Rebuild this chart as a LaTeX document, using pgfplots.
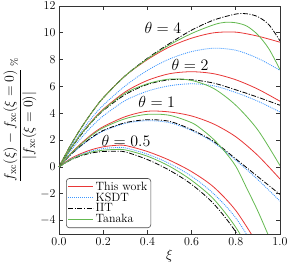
\documentclass[border=0pt]{standalone}
\usepackage{fix-cm}
\usepackage{pgfplots}
\pgfplotsset{compat=1.18}
\definecolor{cred}{RGB}{232,55,55}
\definecolor{cblue}{RGB}{60,150,255}
\definecolor{cgreen}{RGB}{100,185,80}
\begin{document}
\begin{tikzpicture}
\begin{axis}[
  name=ax,
  scale only axis,
  width=221pt, height=228pt,
  xmin=0, xmax=1, ymin=-5, ymax=12,
  xtick={0,0.2,0.4,0.6,0.8,1.0},
  ytick={-4,-2,0,2,4,6,8,10,12},
  xticklabel style={/pgf/number format/.cd, fixed, fixed zerofill, precision=1},
  yticklabel style={/pgf/number format/.cd, fixed, precision=0},
  tick label style={font=\fontsize{12}{14}\selectfont},
  tick align=inside,
  major tick length=4pt,
  axis line style={black!80, line width=0.9pt},
  every tick/.style={black!80, line width=0.7pt},
  xlabel={$\xi$},
  xlabel style={font=\fontsize{14}{16}\selectfont, yshift=2pt},
  ylabel={$\displaystyle\frac{f_{\mathrm{xc}}(\xi)-f_{\mathrm{xc}}(\xi=0)}{|f_{\mathrm{xc}}(\xi=0)|}\,{}^{\%}$},
  ylabel style={font=\fontsize{14}{16}\selectfont, yshift=-3pt},
  legend style={at={(0.032,0.026)}, anchor=south west, draw=black!70,
    rounded corners=3pt, font=\fontsize{12}{12}\selectfont,
    inner sep=1.5pt, row sep=-3pt, line width=0.6pt},
  legend cell align=left,
  legend image code/.code={\draw[#1] (0pt,0pt) -- (25pt,0pt);},
  every axis plot/.append style={line width=0.8pt, smooth},
]
% theta = 4
\addplot[cred] coordinates {(0,0)(0.05,1.55)(0.1,2.9)(0.15,4.1)(0.2,5.15)(0.3,6.8)(0.4,8.0)(0.5,8.95)(0.6,9.6)(0.7,10.0)(0.8,10.05)(0.9,9.75)(1.0,9.3)};
\addlegendentry{This work}
\addplot[cblue, dash pattern=on 1pt off 1pt] coordinates {(0,0)(0.05,1.4)(0.1,2.6)(0.15,3.7)(0.2,4.6)(0.3,6.05)(0.4,7.2)(0.5,8.05)(0.6,8.6)(0.7,8.85)(0.8,8.7)(0.9,8.1)(1.0,7.2)};
\addlegendentry{KSDT}
\addplot[black, dash pattern=on 5pt off 1.6pt on 1pt off 1.6pt] coordinates {(0,0)(0.05,1.55)(0.1,2.9)(0.15,4.1)(0.2,5.15)(0.3,6.8)(0.4,8.1)(0.5,9.2)(0.6,10.2)(0.7,10.95)(0.8,11.4)(0.85,11.42)(0.9,11.2)(0.95,10.6)(1.0,9.4)};
\addlegendentry{IIT}
\addplot[cgreen] coordinates {(0,0)(0.05,1.55)(0.1,2.9)(0.15,4.1)(0.2,5.15)(0.3,6.8)(0.4,8.05)(0.5,9.1)(0.6,9.95)(0.7,10.6)(0.75,10.78)(0.8,10.75)(0.85,10.5)(0.9,9.85)(0.95,8.8)(1.0,7.25)};
\addlegendentry{Tanaka}
% theta = 2
\addplot[cred, forget plot] coordinates {(0,0)(0.05,1.3)(0.1,2.45)(0.15,3.45)(0.2,4.3)(0.3,5.6)(0.4,6.45)(0.5,6.95)(0.6,7.1)(0.7,6.95)(0.8,6.5)(0.9,5.8)(1.0,4.9)};
\addplot[cblue, dash pattern=on 1pt off 1pt, forget plot] coordinates {(0,0)(0.05,1.15)(0.1,2.15)(0.15,3.05)(0.2,3.8)(0.3,4.95)(0.4,5.65)(0.5,6.05)(0.6,6.2)(0.7,6.05)(0.8,5.55)(0.9,4.9)(1.0,4.1)};
\addplot[black, dash pattern=on 5pt off 1.6pt on 1pt off 1.6pt, forget plot] coordinates {(0,0)(0.05,1.28)(0.1,2.4)(0.15,3.38)(0.2,4.2)(0.3,5.4)(0.4,6.15)(0.5,6.5)(0.6,6.5)(0.7,6.25)(0.8,5.75)(0.9,5.2)(1.0,4.6)};
\addplot[cgreen, forget plot] coordinates {(0,0)(0.05,1.3)(0.1,2.45)(0.15,3.4)(0.2,4.25)(0.3,5.5)(0.4,6.2)(0.5,6.55)(0.6,6.45)(0.7,5.85)(0.8,4.6)(0.9,2.75)(1.0,0.1)};
% theta = 1
\addplot[cred, forget plot] coordinates {(0,0)(0.05,0.95)(0.1,1.75)(0.15,2.45)(0.2,3.0)(0.3,3.75)(0.4,4.15)(0.5,4.1)(0.6,3.8)(0.7,3.2)(0.8,2.25)(0.9,0.85)(1.0,-0.9)};
\addplot[cblue, dash pattern=on 1pt off 1pt, forget plot] coordinates {(0,0)(0.05,0.86)(0.1,1.57)(0.15,2.18)(0.2,2.67)(0.3,3.25)(0.4,3.45)(0.5,3.3)(0.6,2.72)(0.7,1.82)(0.8,0.5)(0.9,-0.95)(1.0,-2.55)};
\addplot[black, dash pattern=on 5pt off 1.6pt on 1pt off 1.6pt, forget plot] coordinates {(0,0)(0.05,0.88)(0.1,1.6)(0.15,2.22)(0.2,2.72)(0.3,3.3)(0.4,3.52)(0.5,3.4)(0.6,2.78)(0.7,1.9)(0.8,0.6)(0.9,-0.73)(1.0,-2.05)};
\addplot[cgreen, forget plot] coordinates {(0,0)(0.05,0.93)(0.1,1.7)(0.15,2.38)(0.2,2.92)(0.3,3.6)(0.4,3.92)(0.5,3.85)(0.6,3.3)(0.65,2.75)(0.7,2.05)(0.75,1.15)(0.8,0.05)(0.85,-1.6)(0.9,-3.3)(0.95,-5.2)};
% theta = 0.5
\addplot[cred, forget plot] coordinates {(0,0)(0.05,0.6)(0.1,1.0)(0.15,1.3)(0.2,1.5)(0.25,1.6)(0.3,1.6)(0.4,1.15)(0.5,0.5)(0.6,-0.35)(0.7,-1.5)(0.8,-3.25)(0.9,-5.8)};
\addplot[cblue, dash pattern=on 1pt off 1pt, forget plot] coordinates {(0,0)(0.05,0.55)(0.1,0.93)(0.15,1.2)(0.2,1.37)(0.25,1.44)(0.3,1.42)(0.4,0.95)(0.5,0.25)(0.6,-0.7)(0.7,-2.0)(0.8,-3.8)(0.9,-6.4)};
\addplot[black, dash pattern=on 5pt off 1.6pt on 1pt off 1.6pt, forget plot] coordinates {(0,0)(0.05,0.5)(0.1,0.83)(0.15,1.05)(0.2,1.15)(0.25,1.17)(0.3,1.12)(0.4,0.55)(0.5,-0.25)(0.6,-1.3)(0.7,-2.75)(0.8,-4.85)(0.9,-7.8)};
\addplot[cgreen, forget plot] coordinates {(0,0)(0.05,0.52)(0.1,0.88)(0.15,1.12)(0.2,1.25)(0.25,1.3)(0.3,1.27)(0.4,0.8)(0.5,0.05)(0.6,-1.0)(0.7,-2.4)(0.8,-4.5)(0.9,-7.3)};
% labels
\node[font=\fontsize{16}{18}\selectfont] at (axis cs:0.47,10.4) {$\theta = 4$};
\node[font=\fontsize{16}{18}\selectfont] at (axis cs:0.593,7.6) {$\theta = 2$};
\node[font=\fontsize{16}{18}\selectfont] at (axis cs:0.442,4.82) {$\theta = 1$};
\node[font=\fontsize{16}{18}\selectfont] at (axis cs:0.303,1.92) {$\theta = 0.5$};
\end{axis}
\pgfresetboundingbox
\path[use as bounding box] ([xshift=-59pt,yshift=-37pt]ax.south west) rectangle ([xshift=10pt,yshift=6pt]ax.north east);
\end{tikzpicture}
\end{document}
